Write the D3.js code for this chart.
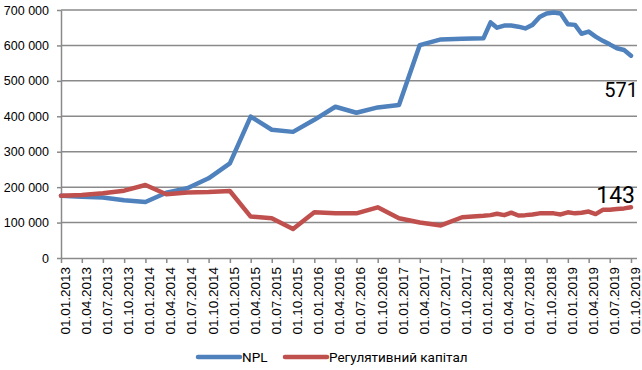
<!DOCTYPE html>
<html>
<head>
<meta charset="utf-8">
<script src="https://cdn.jsdelivr.net/npm/d3@7"></script>
<style>
  body { margin: 0; background: #fff; }
  svg text { font-family: "Liberation Sans", Arial, sans-serif; }
</style>
</head>
<body>
<div id="chart"></div>
<script>
// Dates of observations (quarterly to 2017, monthly from 2018)
var dates = ["01.01.2013","01.04.2013","01.07.2013","01.10.2013","01.01.2014","01.04.2014","01.07.2014","01.10.2014",
  "01.01.2015","01.04.2015","01.07.2015","01.10.2015","01.01.2016","01.04.2016","01.07.2016","01.10.2016",
  "01.01.2017","01.04.2017","01.07.2017","01.10.2017",
  "01.01.2018","01.02.2018","01.03.2018","01.04.2018","01.05.2018","01.06.2018","01.07.2018","01.08.2018",
  "01.09.2018","01.10.2018","01.11.2018","01.12.2018","01.01.2019","01.02.2019","01.03.2019","01.04.2019",
  "01.05.2019","01.06.2019","01.07.2019","01.08.2019","01.09.2019","01.10.2019"];

var npl = [176000,173000,171000,163000,158000,184000,197000,225000,
  267000,399000,362000,356000,390000,427000,410000,425000,
  432000,601000,617000,619000,
  620000,665000,650000,656000,656000,653000,648000,658000,
  680000,690000,693000,690000,660000,658000,633000,639000,
  625000,613000,603000,592000,587000,571000];

var capital = [176000,178000,183000,190000,206000,180000,185000,186000,
  189000,117000,112000,82000,129000,126000,126000,143000,
  112000,100000,92000,115000,
  119000,121000,125000,121000,128000,120000,121000,123000,
  126000,126000,126000,123000,129000,126000,128000,131000,
  124000,136000,136000,138000,140000,143000];

// Axis tick labels
var tickLabels = ["01.01.2013","01.04.2013","01.07.2013","01.10.2013","01.01.2014","01.04.2014","01.07.2014","01.10.2014",
  "01.01.2015","01.04.2015","01.07.2015","01.10.2015","01.01.2016","01.04.2016","01.07.2016","01.10.2016",
  "01.01.2017","01.04.2017","01.07.2017","01.10.2017","01.01.2018","01.04.2018","01.07.2018","01.10.2018",
  "01.01.2019","01.04.2019","01.07.2019","01.10.2019"];
var yTicks = [0, 100000, 200000, 300000, 400000, 500000, 600000, 700000];

var seriesNames = ["NPL", "Регулятивний капітал"];
var colors = ["#4f81bd", "#c0504d"];

var svgWidth = 642, svgHeight = 370;
// plot area edges
var plotLeft = 61, plotRight = 631, gridRight = 637, plotTop = 10, plotBottom = 258;

var parseDate = d3.timeParse("%d.%m.%Y");

var svg = d3.select("#chart")
  .append("svg")
  .attr("width", svgWidth)
  .attr("height", svgHeight);

var x = d3.scaleTime()
  .domain([parseDate(tickLabels[0]), parseDate(tickLabels[tickLabels.length - 1])])
  .range([plotLeft, plotRight]);

var y = d3.scaleLinear()
  .domain([0, 700000])
  .range([plotBottom, plotTop]);

var fmt = d3.formatLocale({ decimal: ",", thousands: " ", grouping: [3], currency: ["", ""] }).format(",");

// gridlines
svg.append("g")
  .selectAll("line")
  .data(yTicks.slice(1))
  .join("line")
  .attr("x1", plotLeft)
  .attr("x2", gridRight)
  .attr("y1", d => y(d))
  .attr("y2", d => y(d))
  .attr("stroke", "#8a8a8a")
  .attr("stroke-width", 1.5);

// y axis
var yAxis = svg.append("g")
  .attr("transform", `translate(${plotLeft},0)`)
  .call(d3.axisLeft(y).tickValues(yTicks).tickFormat(fmt).tickSize(4).tickPadding(8).tickSizeOuter(0));
yAxis.select(".domain").attr("stroke", "#8a8a8a").attr("stroke-width", 1.5);
yAxis.selectAll(".tick line").attr("stroke", "#8a8a8a").attr("stroke-width", 1.5);
yAxis.selectAll(".tick text")
  .attr("font-size", 12.5)
  .attr("fill", "#000")
  .style("font-family", "'Liberation Sans', Arial, sans-serif");

// x axis
var xAxis = svg.append("g")
  .attr("transform", `translate(0,${plotBottom})`)
  .call(d3.axisBottom(x)
    .tickValues(tickLabels.map(parseDate))
    .tickFormat(d3.timeFormat("%d.%m.%Y"))
    .tickSize(5)
    .tickSizeOuter(0));
xAxis.select(".domain")
  .attr("d", `M${plotLeft},0.5H${gridRight}`)
  .attr("stroke", "#8a8a8a").attr("stroke-width", 1.5);
xAxis.selectAll(".tick line").attr("stroke", "#8a8a8a").attr("stroke-width", 1.5);
xAxis.selectAll(".tick text")
  .attr("font-size", 13.5)
  .attr("fill", "#000")
  .attr("text-anchor", "end")
  .attr("transform", "rotate(-90)")
  .attr("x", -9)
  .attr("y", 8.5)
  .attr("dy", 0)
  .style("font-family", "'Liberation Sans', Arial, sans-serif");

// lines
var allSeries = [npl, capital];
var line = d3.line()
  .x((d, i) => x(parseDate(dates[i])))
  .y(d => y(d));

svg.append("g")
  .selectAll("path")
  .data(allSeries)
  .join("path")
  .attr("d", d => line(d))
  .attr("fill", "none")
  .attr("stroke", (d, i) => colors[i])
  .attr("stroke-width", 4.5)
  .attr("stroke-linejoin", "round")
  .attr("stroke-linecap", "round");

// end labels
var lastX = x(parseDate(dates[dates.length - 1]));
svg.append("text")
  .attr("x", lastX + 7)
  .attr("y", y(npl[npl.length - 1]) + 41)
  .attr("text-anchor", "end")
  .attr("font-size", 20)
  .style("font-family", "Roboto, 'Liberation Sans', sans-serif")
  .text(Math.round(npl[npl.length - 1] / 1000));
svg.append("text")
  .attr("x", lastX + 4)
  .attr("y", y(capital[capital.length - 1]) - 4)
  .attr("text-anchor", "end")
  .attr("font-size", 23)
  .style("font-family", "Roboto, 'Liberation Sans', sans-serif")
  .text(Math.round(capital[capital.length - 1] / 1000));

// legend
var legendX = [198, 285];
var legend = svg.append("g")
  .selectAll("g")
  .data(seriesNames)
  .join("g")
  .attr("transform", (d, i) => `translate(${legendX[i]},357)`);
legend.append("line")
  .attr("x1", 0).attr("x2", 42)
  .attr("y1", 0).attr("y2", 0)
  .attr("stroke", (d, i) => colors[i])
  .attr("stroke-width", 4.5)
  .attr("stroke-linecap", "round");
legend.append("text")
  .attr("x", 44)
  .attr("y", 5)
  .attr("font-size", 13.5)
  .style("font-family", "Roboto, 'Liberation Sans', sans-serif")
  .text(d => d);
</script>
</body>
</html>
